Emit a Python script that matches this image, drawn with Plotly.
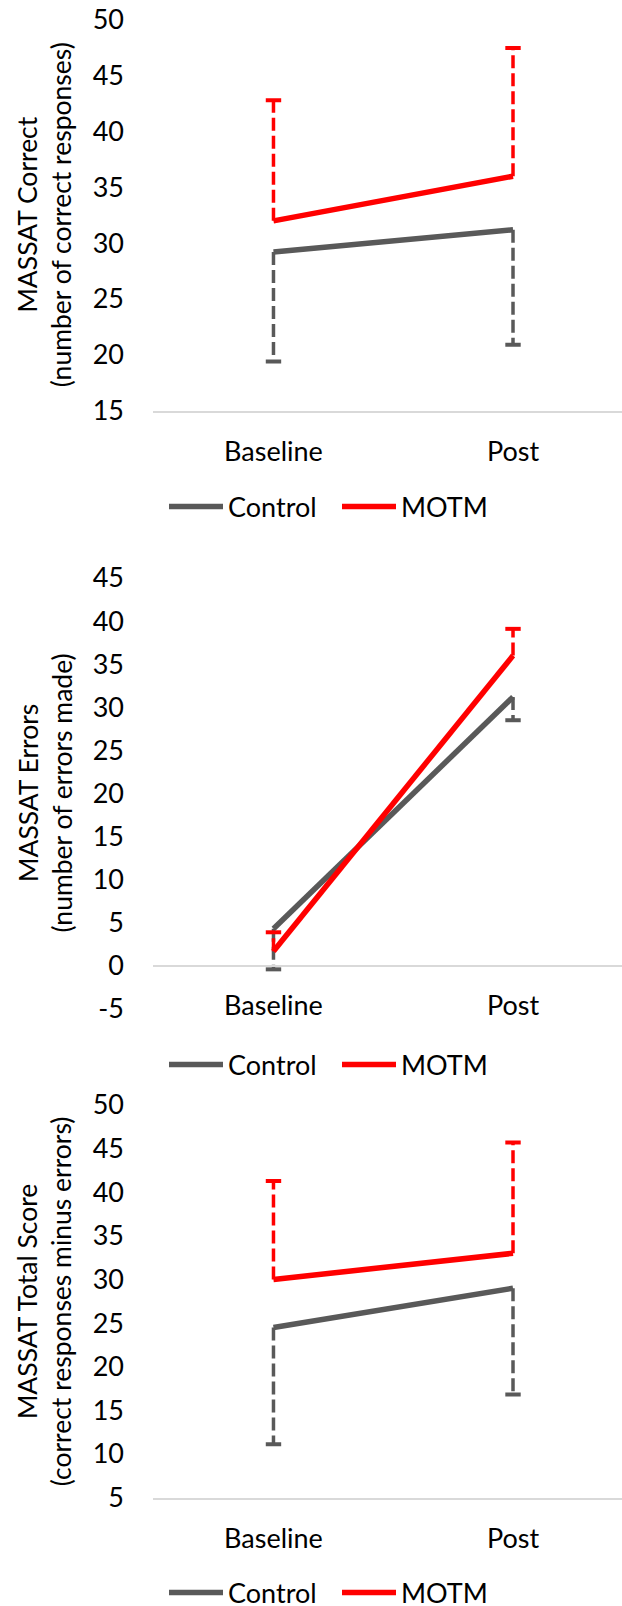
import plotly.graph_objects as go

# ---------------- data ----------------
categories = ["Baseline", "Post"]
series_names = ["Control", "MOTM"]

correct_control = [29.2, 31.2]
correct_control_err = [9.8, 10.3]
correct_motm = [32.0, 36.0]
correct_motm_err = [10.8, 11.5]

errors_control = [4.3, 31.2]
errors_control_err = [4.7, 2.7]
errors_motm = [1.7, 36.0]
errors_motm_err = [2.2, 3.1]

total_control = [24.5, 29.0]
total_control_err = [13.4, 12.2]
total_motm = [30.0, 33.0]
total_motm_err = [11.3, 12.7]

y_titles = [
    "MASSAT Correct<br>(number of correct responses)",
    "MASSAT Errors<br>(number of errors made)",
    "MASSAT Total Score<br>(correct responses minus errors)",
]
y_ranges = [[15, 50], [-5, 45], [5, 50]]
y_tickvals = [
    [15, 20, 25, 30, 35, 40, 45, 50],
    [-5, 0, 5, 10, 15, 20, 25, 30, 35, 40, 45],
    [5, 10, 15, 20, 25, 30, 35, 40, 45, 50],
]
y_ticktext = [
    ["15", "20", "25", "30", "35", "40", "45", "50"],
    ["-5", "0", "5", "10", "15", "20", "25", "30", "35", "40", "45"],
    ["5", "10", "15", "20", "25", "30", "35", "40", "45", "50"],
]

# ---------------- style ----------------
W, H = 622, 1606
FONT = "Lato, 'Open Sans', sans-serif"
FS = 27
TFS = 26.5
COLORS = {"Control": "#595959", "MOTM": "#FF0000"}
AXIS_GREY = "#D9D9D9"

# pixel layout (top/bottom of each plot area, y=0 pixel for panel 2)
panel_px = [(20, 410.5), (578, 1009), (1105, 1497.5)]
legend_px = [507, 1065, 1593]
x_axis_px = [410.5, 966, 1497.5]
PLOT_LEFT = 153
PLOT_W = W - PLOT_LEFT

def frac(px):
    return 1 - px / H

panels = [
    (correct_control, correct_control_err, correct_motm, correct_motm_err),
    (errors_control, errors_control_err, errors_motm, errors_motm_err),
    (total_control, total_control_err, total_motm, total_motm_err),
]

fig = go.Figure()
layout = dict(
    width=W, height=H,
    margin=dict(l=PLOT_LEFT, r=0, t=0, b=0, autoexpand=False),
    paper_bgcolor="white", plot_bgcolor="white",
    font=dict(family=FONT, size=FS, color="#000000"),
    showlegend=True,
    annotations=[],
)

for i, (c_vals, c_err, m_vals, m_err) in enumerate(panels):
    sfx = "" if i == 0 else str(i + 1)
    xa, ya = "x" + sfx, "y" + sfx
    leg = "legend" + sfx
    groups = [("Control", c_vals, c_err, -1), ("MOTM", m_vals, m_err, 1)]
    # error bars (dashed, one-sided) then lines
    for name, vals, err, sign in groups:
        ex, ey = [], []
        for cat, v, e in zip(categories, vals, err):
            ex += [cat, cat, None]
            ey += [v, v + sign * e, None]
        fig.add_trace(go.Scatter(
            x=ex, y=ey, mode="lines", xaxis=xa, yaxis=ya,
            line=dict(color=COLORS[name], width=3.5, dash="13px,5px"),
            showlegend=False, hoverinfo="skip", connectgaps=False))
        fig.add_trace(go.Scatter(
            x=categories, y=[v + sign * e for v, e in zip(vals, err)],
            mode="markers", xaxis=xa, yaxis=ya,
            marker=dict(symbol="line-ew", size=11,
                        line=dict(color=COLORS[name], width=4)),
            showlegend=False, hoverinfo="skip"))
    for name, vals, err, sign in groups:
        fig.add_trace(go.Scatter(
            x=categories, y=vals, mode="lines", name=name,
            xaxis=xa, yaxis=ya, legend=leg,
            line=dict(color=COLORS[name], width=5.5)))

    top, bot = panel_px[i]
    dom = [frac(bot), frac(top)]
    xaxis = dict(
        type="category", categoryorder="array", categoryarray=categories,
        range=[-0.503, 1.455], showgrid=False, zeroline=False,
        showline=True, linecolor=AXIS_GREY, linewidth=2,
        ticks="", ticklabelstandoff=16,
        tickfont=dict(family=FONT, size=FS, color="#000000"),
    )
    if i == 1:
        xaxis.update(anchor="free", position=frac(x_axis_px[i]))
    else:
        xaxis.update(anchor=ya)
    yaxis = dict(
        domain=dom, range=y_ranges[i],
        tickmode="array", tickvals=y_tickvals[i], ticktext=y_ticktext[i],
        showgrid=False, zeroline=False, showline=False, ticks="",
        ticklabelstandoff=28, anchor=xa,
        tickfont=dict(family=FONT, size=FS, color="#000000"),
    )
    layout["xaxis" + sfx] = xaxis
    layout["yaxis" + sfx] = yaxis
    layout[leg] = dict(
        orientation="h", xref="paper", yref="paper",
        x=(164 - PLOT_LEFT) / PLOT_W, y=frac(legend_px[i]),
        xanchor="left", yanchor="middle",
        font=dict(family=FONT, size=FS, color="#000000"),
        bgcolor="rgba(0,0,0,0)", itemwidth=54, entrywidth=104,
        traceorder="normal",
    )
    layout["annotations"].append(dict(
        text=y_titles[i], textangle=-90, showarrow=False,
        xref="paper", yref="paper",
        x=(44 - PLOT_LEFT) / PLOT_W, y=(dom[0] + dom[1]) / 2,
        xanchor="center", yanchor="middle",
        font=dict(family=FONT, size=TFS, color="#000000"),
    ))

fig.update_layout(**layout)
fig.write_html("out.html", config={"displayModeBar": False},
               post_script="document.body.style.margin='0';")
